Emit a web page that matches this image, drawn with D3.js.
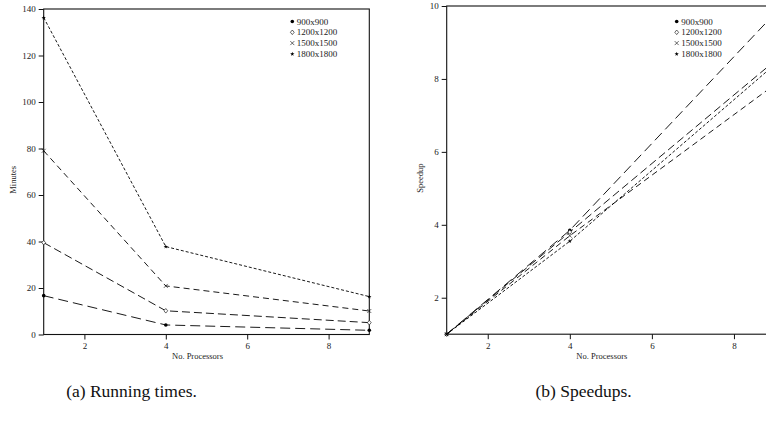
<!DOCTYPE html>
<html>
<head>
<meta charset="utf-8">
<script src="https://cdn.jsdelivr.net/npm/d3@7"></script>
<style>
  body { margin: 0; background: #fff; }
  svg { display: block; font-family: "Liberation Serif", "DejaVu Serif", serif; }
  .tick text { font-family: "Liberation Serif", "DejaVu Serif", serif; font-size: 9px; fill: #222; }
  .tick line { stroke: #111; }
</style>
</head>
<body>
<svg id="fig" width="766" height="425"></svg>
<script>
// processors on the x axis
const procs = [1, 4, 9]
const sizes = ["900x900", "1200x1200", "1500x1500", "1800x1800"]

// running times in minutes (a)
const min900 = [16.7, 4.1, 1.8]
const min1200 = [39.5, 10.2, 5.1]
const min1500 = [79, 20.9, 10.1]
const min1800 = [136.3, 37.8, 16.3]

// speedups (b)
const sp900 = [1, 3.85, 9.8]
const sp1200 = [1, 3.8, 8.5]
const sp1500 = [1, 3.7, 7.85]
const sp1800 = [1, 3.55, 8.4]

const procTicks = [2, 4, 6, 8]
const minuteTicks = [0, 20, 40, 60, 80, 100, 120, 140]
const speedupTicks = [2, 4, 6, 8, 10]

const dashes = ["10,5", "8,4", "6,4", "3,2"]
const symbols = ["dot", "diamond", "cross", "star"]

const svg = d3.select("#fig")

function drawMarker(g, kind, x, y) {
    if (kind == "dot") {
        g.append("circle").attr("cx", x).attr("cy", y).attr("r", 1.8).attr("fill", "#000")
    } else if (kind == "diamond") {
        g.append("path").attr("transform", `translate(${x},${y})`)
            .attr("d", "M0,-2.3L1.9,0L0,2.3L-1.9,0Z")
            .attr("fill", "#fff").attr("stroke", "#000").attr("stroke-width", 0.6)
    } else if (kind == "cross") {
        g.append("path").attr("transform", `translate(${x},${y})`)
            .attr("d", "M-2,-2L2,2M-2,2L2,-2")
            .attr("stroke", "#000").attr("stroke-width", 0.6)
    } else {
        g.append("path").attr("transform", `translate(${x},${y})`)
            .attr("d", d3.symbol(d3.symbolStar, 6)())
            .attr("fill", "#000")
    }
}

function panel(opts) {
    const x = d3.scaleLinear().domain([1, 9]).range(opts.xr)
    const y = d3.scaleLinear().domain(opts.yd).range(opts.yr)
    const g = svg.append("g")

    // frame
    g.append("rect")
        .attr("x", opts.xr[0]).attr("y", opts.yr[1])
        .attr("width", opts.xr[1] - opts.xr[0]).attr("height", opts.yr[0] - opts.yr[1])
        .attr("fill", "none").attr("stroke", "#111").attr("stroke-width", 1.1)

    g.append("g")
        .attr("transform", `translate(0,${opts.yr[0]})`)
        .call(d3.axisBottom(x).tickValues(procTicks).tickSize(5).tickSizeOuter(0).tickPadding(3))
        .call(a => a.select(".domain").remove())

    g.append("g")
        .attr("transform", `translate(${opts.xr[0]},0)`)
        .call(d3.axisLeft(y).tickValues(opts.ticks).tickSize(5).tickSizeOuter(0).tickPadding(3))
        .call(a => a.select(".domain").remove())

    const line = d3.line().x(d => x(d[0])).y(d => y(d[1]))
    opts.series.forEach((vals, i) => {
        const pts = procs.map((p, k) => [p, vals[k]])
        g.append("path").datum(pts)
            .attr("d", line)
            .attr("fill", "none").attr("stroke", "#000").attr("stroke-width", 0.9)
            .attr("stroke-dasharray", dashes[i])
        pts.forEach(p => drawMarker(g, symbols[i], x(p[0]), y(p[1])))
    })

    // legend
    const ly = [21.5, 32.3, 43.1, 54]
    sizes.forEach((s, i) => {
        drawMarker(g, symbols[i], opts.legX, ly[i])
        g.append("text").attr("x", opts.legX + 4.5).attr("y", ly[i] + 3)
            .attr("font-size", 9).attr("fill", "#222").text(s)
    })

    // axis titles
    const cx = (opts.xr[0] + opts.xr[1]) / 2 - 9
    g.append("text").attr("x", cx).attr("y", 359)
        .attr("text-anchor", "middle").attr("font-size", 8.5).attr("fill", "#222")
        .text("No. Processors")
    const cy = (opts.yr[0] + opts.yr[1]) / 2 + 8
    g.append("text")
        .attr("transform", `translate(${opts.ytX},${cy}) rotate(-90)`)
        .attr("text-anchor", "middle").attr("font-size", 8.5).attr("fill", "#222")
        .text(opts.ytitle)

    svg.append("text").attr("x", opts.capX).attr("y", 397)
        .attr("text-anchor", "middle").attr("font-size", 17.5).attr("fill", "#111")
        .text(opts.caption)
}

panel({
    xr: [43.7, 369.3], yd: [0, 140], yr: [334.5, 9], ticks: minuteTicks,
    series: [min900, min1200, min1500, min1800],
    legX: 292.3, ytitle: "Minutes", ytX: 16, capX: 131.5, caption: "(a) Running times."
})

panel({
    xr: [446.7, 775], yd: [1, 10], yr: [334.2, 6], ticks: speedupTicks,
    series: [sp900, sp1200, sp1500, sp1800],
    legX: 676.7, ytitle: "Speedup", ytX: 423, capX: 583.5, caption: "(b) Speedups."
})
</script>
</body>
</html>
